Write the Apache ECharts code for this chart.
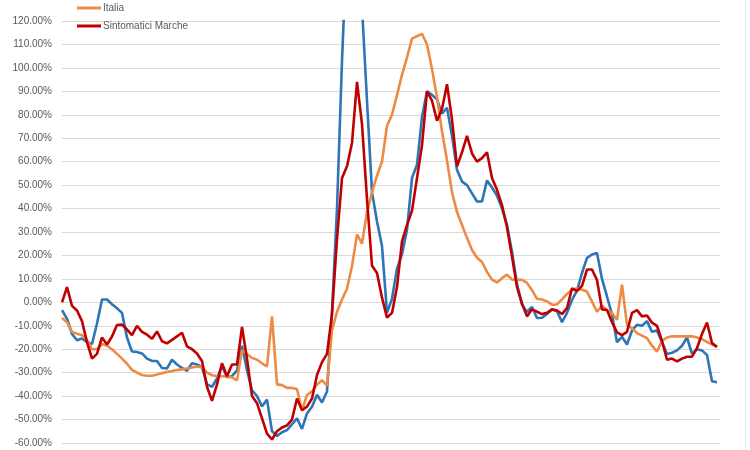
<!DOCTYPE html>
<html>
<head>
<meta charset="utf-8">
<script src="https://cdn.jsdelivr.net/npm/echarts@6/dist/echarts.min.js"></script>
<style>
html,body{margin:0;padding:0;background:#fff;}
#chart{width:750px;height:450px;}
</style>
</head>
<body>
<div id="chart"></div>
<script>
// x positions: sequential observation index (daily samples)
var blueName = 'Serie 1';
var seriesNames = ['Italia', 'Sintomatici Marche'];
var yTicks = { min: -60, max: 120, step: 10 };

var blueValues = [
  -3.3,-7,-13.5,-16.2,-15.4,-17,-17.8,-9,1.2,1.2,
  -0.8,-2.5,-4.5,-15,-21,-21.2,-21.8,-24,-25,-25,
  -28,-28.2,-24.5,-26.5,-28,-29.2,-26,-26.5,-27.7,-35,
  -36,-32.5,-27,-32,-31.5,-29,-18.5,-29,-37.5,-40,
  -44.4,-41.5,-55,-57,-55.4,-54.5,-52,-49.5,-54,-47.4,
  -44.5,-39.4,-42.7,-38,-4,40,103,155,170,165,
  126,86,47,34.5,24,-4.5,1.5,14.5,20.5,31,
  53,58.7,79,90,88.5,86.5,80.5,83,71,56.5,
  51.5,50,46.5,43,43,52,49,45.5,40,33,
  21.5,7.8,-1,-4,-2,-6.7,-6.6,-5,-3,-3.8,
  -8.5,-4.5,1,5,12.5,19,20.4,21,10,2.5,
  -5.2,-17,-14.7,-18,-12,-9.6,-10,-8,-12.6,-12,
  -17,-22,-21.5,-20.5,-18.5,-15,-22,-20,-20.5,-22.5,
  -33.7,-34.1
];

var italiaValues = [
  -6.7,-8.5,-12.6,-13.4,-14,-16,-20,-20,-17.8,-18.5,
  -20,-22,-24,-26.2,-28.8,-30,-31,-31.3,-31.3,-30.8,
  -30.2,-29.7,-29.3,-28.9,-28.6,-28.2,-27.8,-27.4,-27.8,-30,
  -31.1,-31.5,-31.5,-31.6,-32,-33.3,-20.5,-22,-23.7,-24.5,
  -26,-27.3,-6,-35,-35.3,-36.5,-36.5,-37,-46,-39.5,
  -38,-35,-33.2,-35.5,-12,-4,1.2,5.8,15.5,29,
  25,38.5,47,54,60,75.3,80,88.5,97,104.5,
  112.5,113.5,114.5,110,99.5,87.5,73,60.5,47,38.5,
  33,27.5,22.3,19,17.2,13,9.7,8.5,10.3,11.8,
  9.7,9.7,9.6,8.3,5.2,1.5,1.2,0.4,-1,-0.9,
  1.3,3.6,5.4,6,5.4,4.6,0.3,-4,-1.4,-3.4,
  -4.6,-7.5,7.5,-9.6,-11.1,-13.1,-14.2,-15.3,-18.5,-21,
  -16.5,-15,-14.5,-14.5,-14.5,-14.5,-14.5,-15,-15.7,-16.9,
  -17.9,-19
];

var marcheValues = [
  0,6.5,-1.5,-3.5,-8,-17,-24,-22,-15,-18,
  -14.6,-9.7,-9.5,-11.6,-14,-10,-12.6,-13.8,-15.5,-12.4,
  -16.6,-17.5,-16,-14.5,-13,-18.8,-20,-21.8,-25,-36,
  -42,-35,-26,-31.5,-26.5,-26.5,-10.5,-24,-40,-43,
  -49.5,-56,-58.5,-55,-53.4,-52.5,-50,-41,-46,-44.5,
  -41,-31,-25.5,-22,-5,27,53,58,68,94,
  76,44,15.6,12.5,2,-6.5,-4.5,6.5,26,33,
  39,53,67,90,86,77.5,82.5,93,78,58,
  64,71,63.5,60,61.5,64,53,48,41.5,32,
  19.5,6.5,-0.5,-6,-3,-4,-5,-4.5,-3,-3.5,
  -5,-2.5,6,4.8,7,14,14,9.5,-3,-3.3,
  -8.5,-12.8,-14,-12.6,-4.5,-3.3,-6,-5.6,-8.7,-10,
  -16.5,-24.5,-24,-25.2,-24,-23.2,-23.2,-19.5,-13.5,-8.6,
  -17.4,-19
];

function toPairs(arr){ return arr.map(function(v,i){ return [i, v]; }); }

var chart = echarts.init(document.getElementById('chart'), null, {renderer:'canvas'});
var font = 'Liberation Sans, Arial, sans-serif';
chart.setOption({
  animation: false,
  backgroundColor: '#ffffff',
  textStyle: { fontFamily: font },
  grid: { left: 62, right: 30, top: 21, bottom: 7, containLabel: false },
  graphic: [
    { type: 'line', silent: true, shape: { x1: 745.5, y1: 0, x2: 745.5, y2: 450 },
      style: { stroke: '#e6e6e6', lineWidth: 1 } }
  ],
  legend: {
    data: seriesNames,
    orient: 'vertical',
    left: 72,
    top: -2,
    itemGap: 8,
    itemWidth: 24,
    itemHeight: 3,
    icon: 'rect',
    textStyle: { fontSize: 10, color: '#595959', fontFamily: font, padding: [0,0,0,-3] }
  },
  xAxis: {
    type: 'value',
    min: 0,
    max: 131.6,
    show: false
  },
  yAxis: {
    type: 'value',
    min: yTicks.min,
    max: yTicks.max,
    interval: yTicks.step,
    axisLine: { show: false },
    axisTick: { show: false },
    axisLabel: {
      fontSize: 10,
      color: '#595959',
      margin: 10,
      fontFamily: font,
      formatter: function(v){ return v.toFixed(2) + '%'; }
    },
    splitLine: { lineStyle: { color: '#d9d9d9', width: 1 } }
  },
  series: [
    { name: blueName, type: 'line', data: toPairs(blueValues), symbol: 'none',
      lineStyle: { color: '#2E75B6', width: 2.6 }, itemStyle: { color: '#2E75B6' }, z: 2 },
    { name: seriesNames[0], type: 'line', data: toPairs(italiaValues), symbol: 'none',
      lineStyle: { color: '#ED8B45', width: 2.6 }, itemStyle: { color: '#ED8B45' }, z: 3 },
    { name: seriesNames[1], type: 'line', data: toPairs(marcheValues), symbol: 'none',
      lineStyle: { color: '#C00000', width: 2.6 }, itemStyle: { color: '#C00000' }, z: 4 }
  ]
});
</script>
</body>
</html>
